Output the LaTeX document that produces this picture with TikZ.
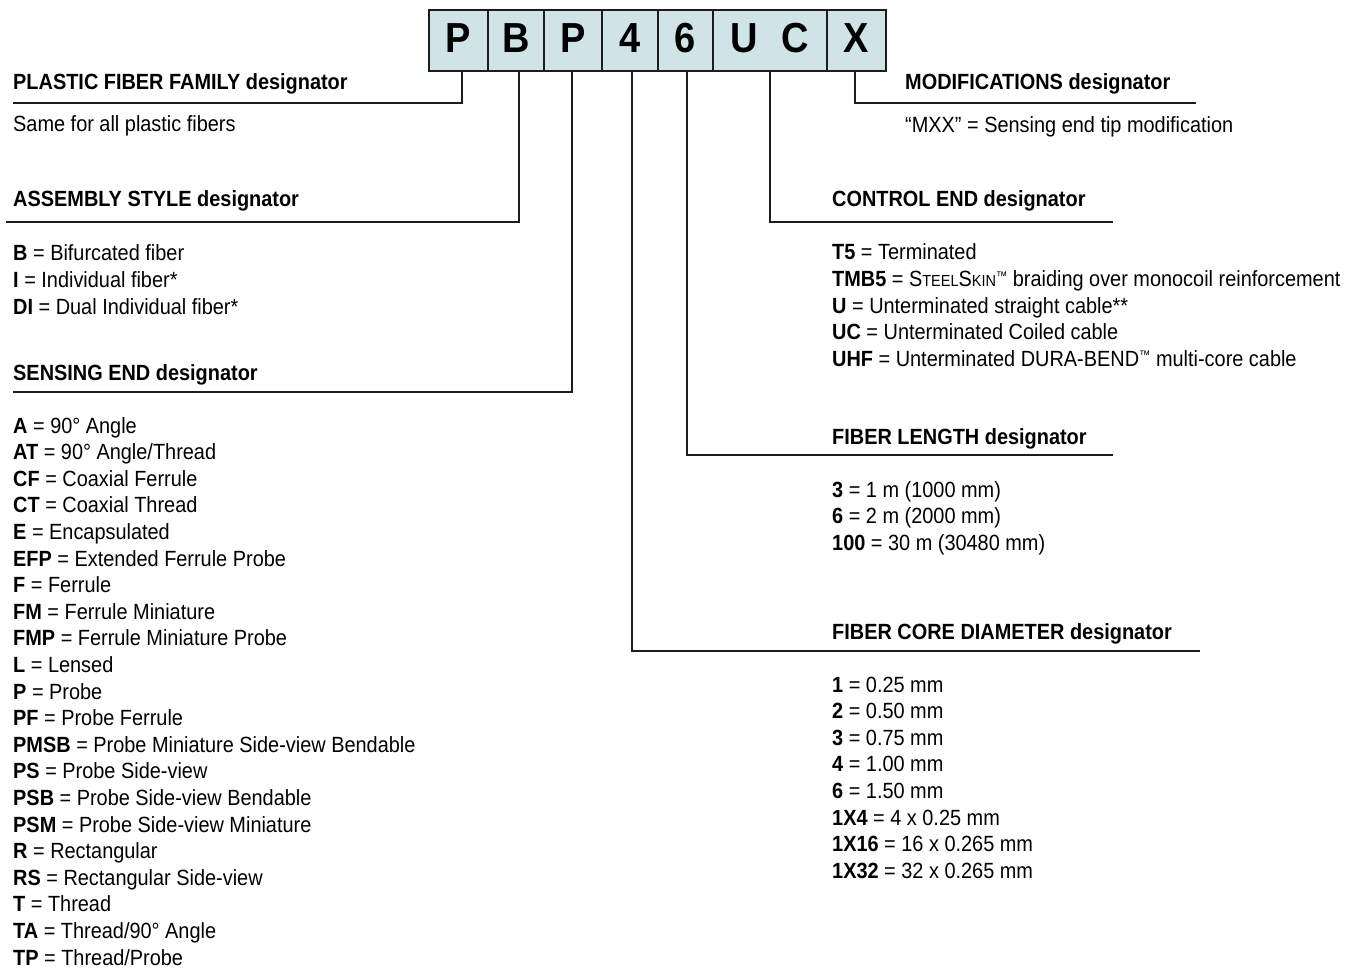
\documentclass[tikz,border=0pt]{standalone}
\usepackage{fontspec}
\setmainfont{Liberation Sans}[FakeStretch=0.905]
\definecolor{boxfill}{RGB}{208,227,231}
\definecolor{ink}{RGB}{30,28,29}
\newcommand\tmk{\raisebox{6.5pt}{\fontsize{12.5}{12.5}\selectfont ™}}
\newcommand\smc[1]{{\fontsize{16}{16}\selectfont #1}}
\begin{document}
\begin{tikzpicture}[x=1pt,y=-1pt,
  letterbox/.style={draw=ink, line width=2pt, fill=boxfill, minimum height=61pt,
     inner sep=0pt, text height=30pt, text depth=5pt, text=black,
     font=\fontsize{42}{42}\selectfont\bfseries},
  heading/.style={anchor=base west, inner sep=0pt, text=black,
     font=\fontsize{22}{26.6}\selectfont\bfseries},
  body/.style={anchor=base west, inner sep=0pt, text=black,
     font=\fontsize{22}{26.6}\selectfont},
  conn/.style={draw=ink, line width=2pt}]
\useasboundingbox (0,0) rectangle (1349,968);

% code boxes
\node[letterbox, minimum width=59pt] (b1) at (458.5,40.5) {P};
\node[letterbox, minimum width=56pt] (b2) at (516,40.5) {B};
\node[letterbox, minimum width=58pt] (b3) at (573,40.5) {P};
\node[letterbox, minimum width=56pt] (b4) at (630,40.5) {4};
\node[letterbox, minimum width=55pt] (b5) at (685.5,40.5) {6};
\node[letterbox, minimum width=114pt] (b6) at (770,40.5) {U\hspace{24pt}C};
\node[letterbox, minimum width=59pt] (b7) at (856.5,40.5) {X};

% line ends
\coordinate (e1) at (13,103.5);
\coordinate (e2) at (6,222);
\coordinate (e3) at (13,392);
\coordinate (e4) at (1200,651);
\coordinate (e5) at (1113,455);
\coordinate (e6) at (1113,222);
\coordinate (e7) at (1196,103.5);

\draw[conn] ([xshift=3.5pt]b1.south) |- (e1);
\draw[conn] ([xshift=3pt]b2.south) |- (e2);
\draw[conn] ([xshift=-1pt]b3.south) |- (e3);
\draw[conn] ([xshift=1.5pt]b4.south) |- (e4);
\draw[conn] ([xshift=1.5pt]b5.south) |- (e5);
\draw[conn] (b6.south) |- (e6);
\draw[conn] ([xshift=-1.5pt]b7.south) |- (e7);

% headings
\node[heading] (h1) at (13,90) {PLASTIC FIBER FAMILY designator};
\node[heading] (h2) at (13,207) {ASSEMBLY STYLE designator};
\node[heading] (h3) at (13,380) {SENSING END designator};
\node[heading] (h7) at (905,90) {MODIFICATIONS designator};
\node[heading] (h6) at (832,207) {CONTROL END designator};
\node[heading] (h5) at (832,444) {FIBER LENGTH designator};
\node[heading] (h4) at (832,639) {FIBER CORE DIAMETER designator};

% bodies
\node[body] (t1) at (13,132) {Same for all plastic fibers};
\node[body] (t7) at (905,133) {“MXX” = Sensing end tip modification};

\foreach \t [count=\i from 0] in {
  {\textbf{B} = Bifurcated fiber},
  {\textbf{I} = Individual fiber*},
  {\textbf{DI} = Dual Individual fiber*}}
  \node[body] (as\i) at (13,261+26.6*\i) {\t};

\foreach \t [count=\i from 0] in {
  {\textbf{A} = 90° Angle},
  {\textbf{AT} = 90° Angle/Thread},
  {\textbf{CF} = Coaxial Ferrule},
  {\textbf{CT} = Coaxial Thread},
  {\textbf{E} = Encapsulated},
  {\textbf{EFP} = Extended Ferrule Probe},
  {\textbf{F} = Ferrule},
  {\textbf{FM} = Ferrule Miniature},
  {\textbf{FMP} = Ferrule Miniature Probe},
  {\textbf{L} = Lensed},
  {\textbf{P} = Probe},
  {\textbf{PF} = Probe Ferrule},
  {\textbf{PMSB} = Probe Miniature Side-view Bendable},
  {\textbf{PS} = Probe Side-view},
  {\textbf{PSB} = Probe Side-view Bendable},
  {\textbf{PSM} = Probe Side-view Miniature},
  {\textbf{R} = Rectangular},
  {\textbf{RS} = Rectangular Side-view},
  {\textbf{T} = Thread},
  {\textbf{TA} = Thread/90° Angle},
  {\textbf{TP} = Thread/Probe}}
  \node[body] (se\i) at (13,433+26.6*\i) {\t};

\foreach \t [count=\i from 0] in {
  {\textbf{T5} = Terminated},
  {\textbf{TMB5} = S\smc{TEEL}S\smc{KIN}\tmk{} braiding over monocoil reinforcement},
  {\textbf{U} = Unterminated straight cable**},
  {\textbf{UC} = Unterminated Coiled cable},
  {\textbf{UHF} = Unterminated DURA-BEND\tmk{} multi-core cable}}
  \node[body] (ce\i) at (832,260+26.6*\i) {\t};

\foreach \t [count=\i from 0] in {
  {\textbf{3} = 1 m (1000 mm)},
  {\textbf{6} = 2 m (2000 mm)},
  {\textbf{100} = 30 m (30480 mm)}}
  \node[body] (fl\i) at (832,497+26.6*\i) {\t};

\foreach \t [count=\i from 0] in {
  {\textbf{1} = 0.25 mm},
  {\textbf{2} = 0.50 mm},
  {\textbf{3} = 0.75 mm},
  {\textbf{4} = 1.00 mm},
  {\textbf{6} = 1.50 mm},
  {\textbf{1X4} = 4 x 0.25 mm},
  {\textbf{1X16} = 16 x 0.265 mm},
  {\textbf{1X32} = 32 x 0.265 mm}}
  \node[body] (cd\i) at (832,692+26.6*\i) {\t};
\end{tikzpicture}
\end{document}
